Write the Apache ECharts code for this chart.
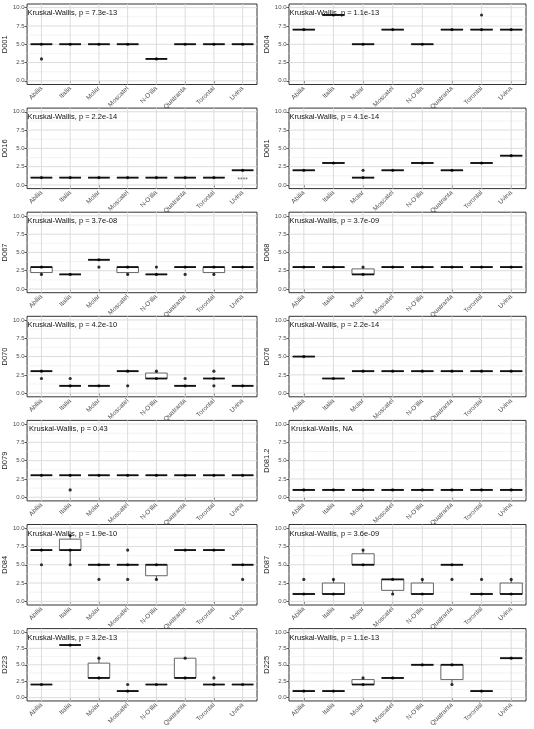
<!DOCTYPE html>
<html>
<head>
<meta charset="utf-8">
<script src="https://cdn.jsdelivr.net/npm/echarts@6/dist/echarts.min.js"></script>
<style>html,body{margin:0;padding:0;background:#fff}#c{width:534px;height:729px}</style>
</head>
<body>
<div id="c"></div>
<script>
const categories = ['Abilia','Italia','Molar','Moscatel',"N-O'illa",'Quatranta','Torontal','Uvina'];
const panels = ['D001','D004','D016','D061','D067','D068','D070','D076','D079','D081.2','D084','D087','D223','D225'];
const pLabels = ['Kruskal-Wallis, p = 7.3e-13','Kruskal-Wallis, p = 1.1e-13','Kruskal-Wallis, p = 2.2e-14','Kruskal-Wallis, p = 4.1e-14',
  'Kruskal-Wallis, p = 3.7e-08','Kruskal-Wallis, p = 3.7e-09','Kruskal-Wallis, p = 4.2e-10','Kruskal-Wallis, p = 2.2e-14',
  'Kruskal-Wallis, p = 0.43','Kruskal-Wallis, NA','Kruskal-Wallis, p = 1.9e-10','Kruskal-Wallis, p = 3.6e-09',
  'Kruskal-Wallis, p = 3.2e-13','Kruskal-Wallis, p = 1.1e-13'];
const yTicks = [0, 2.5, 5, 7.5, 10];
const yMinor = [1.25, 3.75, 6.25, 8.75];

// box stats per category: [lower whisker, Q1, median, Q3, upper whisker]
const box_D001 = [[5,5,5,5,5],[5,5,5,5,5],[5,5,5,5,5],[5,5,5,5,5],[3,3,3,3,3],[5,5,5,5,5],[5,5,5,5,5],[5,5,5,5,5]];
const pts_D001 = [[5,3],[5],[5],[5],[3],[5],[5],[5]];
const box_D004 = [[7,7,7,7,7],[9,9,9,9,9],[5,5,5,5,5],[7,7,7,7,7],[5,5,5,5,5],[7,7,7,7,7],[7,7,7,7,7],[7,7,7,7,7]];
const pts_D004 = [[7],[9],[5],[7],[5],[7],[7,9],[7]];
const box_D016 = [[1,1,1,1,1],[1,1,1,1,1],[1,1,1,1,1],[1,1,1,1,1],[1,1,1,1,1],[1,1,1,1,1],[1,1,1,1,1],[2,2,2,2,2]];
const pts_D016 = [[1],[1],[1],[1],[1],[1],[1],[2]];
const box_D061 = [[2,2,2,2,2],[3,3,3,3,3],[1,1,1,1,1],[2,2,2,2,2],[3,3,3,3,3],[2,2,2,2,2],[3,3,3,3,3],[4,4,4,4,4]];
const pts_D061 = [[2],[3],[1,2],[2],[3],[2],[3],[4]];
const box_D067 = [[2,2.25,3,3,3],[2,2,2,2,2],[4,4,4,4,4],[2,2.25,3,3,3],[2,2,2,2,2],[3,3,3,3,3],[2,2.25,3,3,3],[3,3,3,3,3]];
const pts_D067 = [[3,2],[2],[4,3],[3,2],[2,3],[3,2],[3,2],[3]];
const box_D068 = [[3,3,3,3,3],[3,3,3,3,3],[2,2,2,2.75,3],[3,3,3,3,3],[3,3,3,3,3],[3,3,3,3,3],[3,3,3,3,3],[3,3,3,3,3]];
const pts_D068 = [[3],[3],[3,2],[3],[3],[3],[3],[3]];
const box_D070 = [[3,3,3,3,3],[1,1,1,1,1],[1,1,1,1,1],[3,3,3,3,3],[2,2,2,2.75,3],[1,1,1,1,1],[2,2,2,2,2],[1,1,1,1,1]];
const pts_D070 = [[3,2],[1,2],[1],[3,1],[3,2],[1,2],[3,2,1],[1]];
const box_D076 = [[5,5,5,5,5],[2,2,2,2,2],[3,3,3,3,3],[3,3,3,3,3],[3,3,3,3,3],[3,3,3,3,3],[3,3,3,3,3],[3,3,3,3,3]];
const pts_D076 = [[5],[2],[3],[3],[3],[3],[3],[3]];
const box_D079 = [[3,3,3,3,3],[3,3,3,3,3],[3,3,3,3,3],[3,3,3,3,3],[3,3,3,3,3],[3,3,3,3,3],[3,3,3,3,3],[3,3,3,3,3]];
const pts_D079 = [[3],[3,1],[3],[3],[3],[3],[3],[3]];
const box_D081_2 = [[1,1,1,1,1],[1,1,1,1,1],[1,1,1,1,1],[1,1,1,1,1],[1,1,1,1,1],[1,1,1,1,1],[1,1,1,1,1],[1,1,1,1,1]];
const pts_D081_2 = [[1],[1],[1],[1],[1],[1],[1],[1]];
const box_D084 = [[7,7,7,7,7],[5,7,7,8.5,9],[5,5,5,5,5],[5,5,5,5,5],[3,3.5,5,5,5],[7,7,7,7,7],[7,7,7,7,7],[5,5,5,5,5]];
const pts_D084 = [[7,5],[9,7,5],[5,3],[7,5,3],[5,3],[7],[7],[5,3]];
const box_D087 = [[1,1,1,1,1],[1,1,1,2.5,3],[5,5,5,6.5,7],[1,1.5,3,3,3],[1,1,1,2.5,3],[5,5,5,5,5],[1,1,1,1,1],[1,1,1,2.5,3]];
const pts_D087 = [[1,3],[3,1],[7,5],[3,1],[3,1],[5,3],[1,3],[3,1]];
const box_D223 = [[2,2,2,2,2],[8,8,8,8,8],[3,3,3,5.25,6],[1,1,1,1,1],[2,2,2,2,2],[3,3,3,6,6],[2,2,2,2,2],[2,2,2,2,2]];
const pts_D223 = [[2],[8],[6,3],[1,2],[2],[6,3],[2,3],[2]];
const box_D225 = [[1,1,1,1,1],[1,1,1,1,1],[2,2,2,2.75,3],[3,3,3,3,3],[5,5,5,5,5],[2,2.75,5,5,5],[1,1,1,1,1],[6,6,6,6,6]];
const pts_D225 = [[1],[1],[3,2],[3],[5],[5,2],[1],[6]];
// significance mark on D016
const sigLabel = {panel: 2, cat: 7, y: 0.65, text: '****'};

const boxes = [box_D001,box_D004,box_D016,box_D061,box_D067,box_D068,box_D070,box_D076,box_D079,box_D081_2,box_D084,box_D087,box_D223,box_D225];
const points = [pts_D001,pts_D004,pts_D016,pts_D061,pts_D067,pts_D068,pts_D070,pts_D076,pts_D079,pts_D081_2,pts_D084,pts_D087,pts_D223,pts_D225];

const FONT = 'Liberation Sans, Arial, sans-serif';
const rowPitch = 104.1, gTop = 4, gH = 80.5;
const colLeft = [27, 289], colW = [230, 237];

const grids = [], xAxes = [], yAxes = [], series = [], graphics = [];

panels.forEach((name, p) => {
  const row = Math.floor(p / 2), col = p % 2;
  const top = gTop + row * rowPitch;
  grids.push({left: colLeft[col], top: top, width: colW[col], height: gH, show: true,
    borderColor: '#333', borderWidth: 1, backgroundColor: '#fff'});
  xAxes.push({type: 'category', gridIndex: p, data: categories, boundaryGap: true,
    axisLine: {show: false}, axisTick: {show: true, alignWithLabel: true, length: 2.5, lineStyle: {color: '#333', width: 0.8}},
    axisLabel: {rotate: 45, fontSize: 6.5, color: '#4d4d4d', margin: 3, fontFamily: FONT, interval: 0},
    splitLine: {show: false}});
  yAxes.push({type: 'value', gridIndex: p, min: -0.5, max: 10.5, name: name,
    nameLocation: 'middle', nameRotate: 90, nameGap: 16.5,
    nameTextStyle: {fontSize: 7.5, color: '#1a1a1a', fontFamily: FONT},
    axisLine: {show: false},
    axisTick: {show: true, length: 2.5, customValues: yTicks, lineStyle: {color: '#333', width: 0.8}},
    axisLabel: {fontSize: 6, color: '#4d4d4d', margin: 2.5, fontFamily: FONT, customValues: yTicks,
      formatter: v => Number(v).toFixed(1)},
    splitLine: {show: false}});
  // grid lines drawn in data space
  series.push({type: 'custom', xAxisIndex: p, yAxisIndex: p, z: 1, silent: true,
    data: [[0, 0]],
    renderItem: (params, api) => {
      const cs = params.coordSys;
      const ch = [];
      yMinor.forEach(v => { const y = api.coord([0, v])[1];
        ch.push({type: 'line', shape: {x1: cs.x, y1: y, x2: cs.x + cs.width, y2: y}, style: {stroke: '#ebebeb', lineWidth: 0.6}}); });
      yTicks.forEach(v => { const y = api.coord([0, v])[1];
        ch.push({type: 'line', shape: {x1: cs.x, y1: y, x2: cs.x + cs.width, y2: y}, style: {stroke: '#dcdcdc', lineWidth: 1}}); });
      categories.forEach((c, i) => { const x = api.coord([i, 0])[0];
        ch.push({type: 'line', shape: {x1: x, y1: cs.y, x2: x, y2: cs.y + cs.height}, style: {stroke: '#dcdcdc', lineWidth: 1}}); });
      return {type: 'group', children: ch};
    }});
  // boxes
  series.push({type: 'custom', xAxisIndex: p, yAxisIndex: p, z: 3,
    encode: {x: 0, y: [1, 2, 3, 4, 5]},
    data: boxes[p].map((b, i) => [i].concat(b)),
    renderItem: (params, api) => {
      const i = api.value(0);
      const lo = api.value(1), q1 = api.value(2), md = api.value(3), q3 = api.value(4), hi = api.value(5);
      const w = api.size([1, 0])[0] * 0.75;
      const cx = api.coord([i, md])[0];
      const yLo = api.coord([i, lo])[1], yQ1 = api.coord([i, q1])[1], yMd = api.coord([i, md])[1];
      const yQ3 = api.coord([i, q3])[1], yHi = api.coord([i, hi])[1];
      const ch = [];
      if (hi > q3) ch.push({type: 'line', shape: {x1: cx, y1: yQ3, x2: cx, y2: yHi}, style: {stroke: '#333', lineWidth: 0.8}});
      if (lo < q1) ch.push({type: 'line', shape: {x1: cx, y1: yQ1, x2: cx, y2: yLo}, style: {stroke: '#333', lineWidth: 0.8}});
      ch.push({type: 'rect', shape: {x: cx - w / 2, y: yQ3, width: w, height: yQ1 - yQ3},
        style: {fill: '#fff', stroke: '#555', lineWidth: 0.9}});
      ch.push({type: 'line', shape: {x1: cx - w / 2, y1: yMd, x2: cx + w / 2, y2: yMd}, style: {stroke: '#111', lineWidth: 1.8}});
      return {type: 'group', children: ch};
    }});
  // points
  const pd = [];
  points[p].forEach((vals, i) => vals.forEach(v => pd.push([i, v])));
  series.push({type: 'scatter', xAxisIndex: p, yAxisIndex: p, z: 4, symbolSize: 3.2,
    itemStyle: {color: '#000'}, data: pd, silent: true});
  // test label
  graphics.push({type: 'text', left: colLeft[col] + (p === 8 || p === 9 ? 2 : 0.5), top: top + 5, z: 10,
    style: {text: pLabels[p], fontSize: 7.5, fill: '#111', fontFamily: FONT}});
});

series.push({type: 'scatter', xAxisIndex: sigLabel.panel, yAxisIndex: sigLabel.panel, z: 5, symbolSize: 0,
  data: [[sigLabel.cat, sigLabel.y]],
  label: {show: true, position: 'inside', formatter: sigLabel.text, fontSize: 6.5, color: '#333', fontFamily: FONT}});

const chart = echarts.init(document.getElementById('c'), null, {renderer: 'canvas'});
chart.setOption({animation: false, grid: grids, xAxis: xAxes, yAxis: yAxes, series: series, graphic: graphics});
</script>
</body>
</html>
